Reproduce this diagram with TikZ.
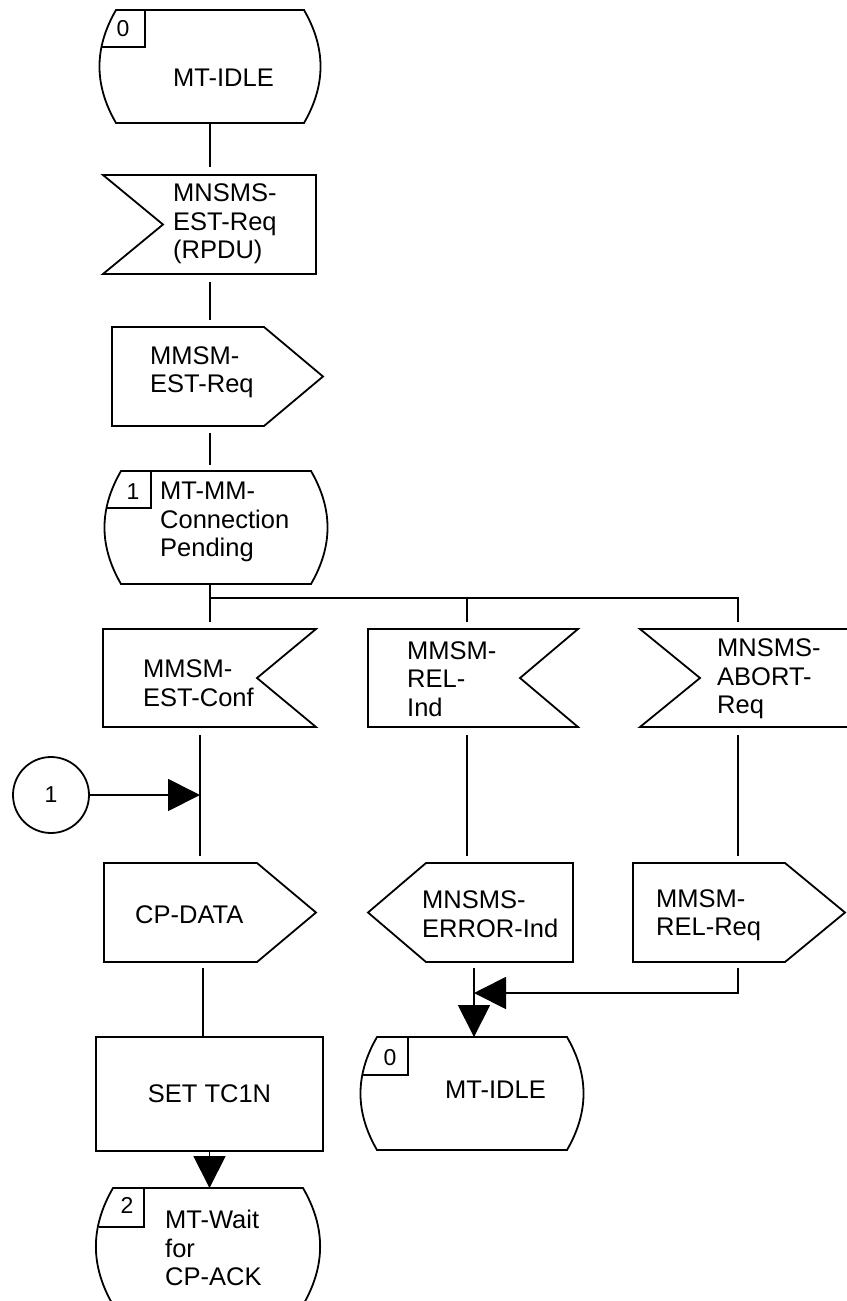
\documentclass[tikz,border=0pt]{standalone}
\usepackage{fontspec}
\setmainfont{Liberation Sans}
\usetikzlibrary{arrows.meta}

\begin{document}
\begin{tikzpicture}[x=1pt,y=-1pt]
\tikzset{
  sdl/.style={draw=black,line width=1.8pt,line join=miter},
  symbox/.style={inner sep=0pt,outer sep=0pt},
  sdltext/.style={anchor=west,align=left,inner sep=0pt,font=\fontsize{25.5}{28.5}\selectfont},
  sdlnum/.style={inner sep=0pt,font=\fontsize{23}{26}\selectfont},
  flowline/.style={sdl},
  flowarrow/.style={sdl,-{Triangle[length=32pt,width=32pt]}}
}
\useasboundingbox (0,0) rectangle (846,1301);
% symbol boxes
\node[symbox,minimum width=220pt,minimum height=113pt] (s0a) at (210,66.5) {};
\node[symbox,minimum width=213pt,minimum height=99pt] (sigA) at (209.5,224.5) {};
\node[symbox,minimum width=211pt,minimum height=99pt] (outA) at (217.5,376.5) {};
\node[symbox,minimum width=222pt,minimum height=113pt] (s1) at (216,527.5) {};
\node[symbox,minimum width=213pt,minimum height=98pt] (estConf) at (209.5,678) {};
\node[symbox,minimum width=210pt,minimum height=98pt] (relInd) at (473,678) {};
\node[symbox,minimum width=210pt,minimum height=98pt] (abortReq) at (745,678) {};
\node[sdl,circle,minimum size=76pt,inner sep=0pt,font=\fontsize{23}{26}\selectfont] (con1) at (51,795) {1};
\node[symbox,minimum width=212pt,minimum height=99pt] (cpData) at (210,912.5) {};
\node[symbox,minimum width=205pt,minimum height=99pt] (errInd) at (470.5,912.5) {};
\node[symbox,minimum width=212pt,minimum height=99pt] (relReq) at (739,912.5) {};
\node[sdl,symbox,minimum width=227pt,minimum height=114pt,font=\fontsize{25.5}{28.5}\selectfont] (setT) at (209.5,1094) {SET TC1N};
\node[symbox,minimum width=222pt,minimum height=113pt] (s0b) at (472,1093.5) {};
\node[symbox,minimum width=222pt,minimum height=117pt] (s2) at (208,1246.5) {};
% states
\draw[sdl] ([xshift=16pt]s0a.north west) -- ([xshift=-16pt]s0a.north east)
  to[bend left=30] ([xshift=-16pt]s0a.south east) -- ([xshift=16pt]s0a.south west)
  to[bend left=30] ([xshift=16pt]s0a.north west) -- cycle;
\draw[sdl] ([xshift=45pt]s0a.north west) -- ++(0,37) -- ++(-43,0);
\draw[sdl] ([xshift=16pt]s1.north west) -- ([xshift=-16pt]s1.north east)
  to[bend left=30] ([xshift=-16pt]s1.south east) -- ([xshift=16pt]s1.south west)
  to[bend left=30] ([xshift=16pt]s1.north west) -- cycle;
\draw[sdl] ([xshift=46pt]s1.north west) -- ++(0,37) -- ++(-44,0);
\draw[sdl] ([xshift=16pt]s0b.north west) -- ([xshift=-16pt]s0b.north east)
  to[bend left=30] ([xshift=-16pt]s0b.south east) -- ([xshift=16pt]s0b.south west)
  to[bend left=30] ([xshift=16pt]s0b.north west) -- cycle;
\draw[sdl] ([xshift=47pt]s0b.north west) -- ++(0,38) -- ++(-45,0);
\draw[sdl] ([xshift=16pt]s2.north west) -- ([xshift=-16pt]s2.north east)
  to[bend left=30] ([xshift=-16pt]s2.south east) -- ([xshift=16pt]s2.south west)
  to[bend left=30] ([xshift=16pt]s2.north west) -- cycle;
\draw[sdl] ([xshift=47pt]s2.north west) -- ++(0,39) -- ++(-45,0);
% signals
\draw[sdl] (sigA.north west) -- (sigA.north east) -- (sigA.south east) -- (sigA.south west) -- ([xshift=60pt]sigA.west) -- cycle;
\draw[sdl] (outA.north west) -- ([xshift=-59pt]outA.north east) -- (outA.east) -- ([xshift=-59pt]outA.south east) -- (outA.south west) -- cycle;
\draw[sdl] (estConf.north west) -- (estConf.north east) -- ([xshift=-59pt]estConf.east) -- (estConf.south east) -- (estConf.south west) -- cycle;
\draw[sdl] (relInd.north west) -- (relInd.north east) -- ([xshift=-58pt]relInd.east) -- (relInd.south east) -- (relInd.south west) -- cycle;
\draw[sdl] (abortReq.north west) -- (abortReq.north east) -- (abortReq.south east) -- (abortReq.south west) -- ([xshift=60pt]abortReq.west) -- cycle;
\draw[sdl] (cpData.north west) -- ([xshift=-59pt]cpData.north east) -- (cpData.east) -- ([xshift=-59pt]cpData.south east) -- (cpData.south west) -- cycle;
\draw[sdl] ([xshift=58pt]errInd.north west) -- (errInd.north east) -- (errInd.south east) -- ([xshift=58pt]errInd.south west) -- (errInd.west) -- cycle;
\draw[sdl] (relReq.north west) -- ([xshift=-60pt]relReq.north east) -- (relReq.east) -- ([xshift=-60pt]relReq.south east) -- (relReq.south west) -- cycle;
% texts
\node[sdlnum] (n_s0a) at (123,29) {0};
\node[sdltext] (t_s0a) at (173,78) {MT-IDLE};
\node[sdltext] (t_sigA) at (173,224) {MNSMS-\\EST-Req\\(RPDU)};
\node[sdltext] (t_outA) at (150,372) {MMSM-\\EST-Req};
\node[sdlnum] (n_s1) at (133,492) {1};
\node[sdltext] (t_s1) at (160,522) {MT-MM-\\Connection\\Pending};
\node[sdltext] (t_estConf) at (143,683) {MMSM-\\EST-Conf};
\node[sdltext] (t_relInd) at (407,679) {MMSM-\\REL-\\Ind};
\node[sdltext] (t_abortReq) at (717,679) {MNSMS-\\ABORT-\\Req};
\node[sdltext] (t_cpData) at (135,915) {CP-DATA};
\node[sdltext] (t_errInd) at (422,914) {MNSMS-\\ERROR-Ind};
\node[sdltext] (t_relReq) at (656,915) {MMSM-\\REL-Req};
\node[sdlnum] (n_s0b) at (390,1058) {0};
\node[sdltext] (t_s0b) at (445,1090) {MT-IDLE};
\node[sdlnum] (n_s2) at (127,1205) {2};
\node[sdltext] (t_s2) at (165,1248) {MT-Wait\\for\\CP-ACK};
% connectors
\coordinate (fork) at (210,598);
\coordinate (dropB) at (467,598);
\coordinate (dropC) at (738,598);
\coordinate (joinA) at (200,795);
\coordinate (mergeA) at (474,993);
\draw[flowline,shorten >=8pt] (s0a.south) -- (s0a.south |- sigA.north);
\draw[flowline,shorten <=8pt,shorten >=7pt] (fork |- sigA.south) -- (fork |- outA.north);
\draw[flowline,shorten <=7pt,shorten >=6pt] (fork |- outA.south) -- (fork |- s1.north);
\draw[flowline,shorten >=7pt] (fork |- s1.south) -- (fork) -- (dropC) -- (dropC |- abortReq.north);
\draw[flowline,shorten >=7pt] (fork) -- (fork |- estConf.north);
\draw[flowline,shorten >=7pt] (dropB) -- (dropB |- relInd.north);
\draw[flowline,shorten <=8pt,shorten >=7pt] (joinA |- estConf.south) -- (joinA |- cpData.north);
\draw[flowarrow] (con1) -- (joinA);
\draw[flowline,shorten <=6pt] ([xshift=-7pt]cpData.south) -- ([xshift=-7pt]cpData.south |- setT.north);
\draw[flowarrow] (setT.south) -- (setT.south |- s2.north);
\draw[flowline,shorten <=8pt,shorten >=7pt] (dropB |- relInd.south) -- (dropB |- errInd.north);
\draw[flowline,shorten <=8pt,shorten >=7pt] (dropC |- abortReq.south) -- (dropC |- relReq.north);
\draw[flowarrow,shorten <=6pt] (mergeA |- errInd.south) -- (mergeA |- s0b.north);
\draw[flowarrow,shorten <=6pt] (dropC |- relReq.south) -- (dropC |- mergeA) -- (mergeA);
\end{tikzpicture}
\end{document}
